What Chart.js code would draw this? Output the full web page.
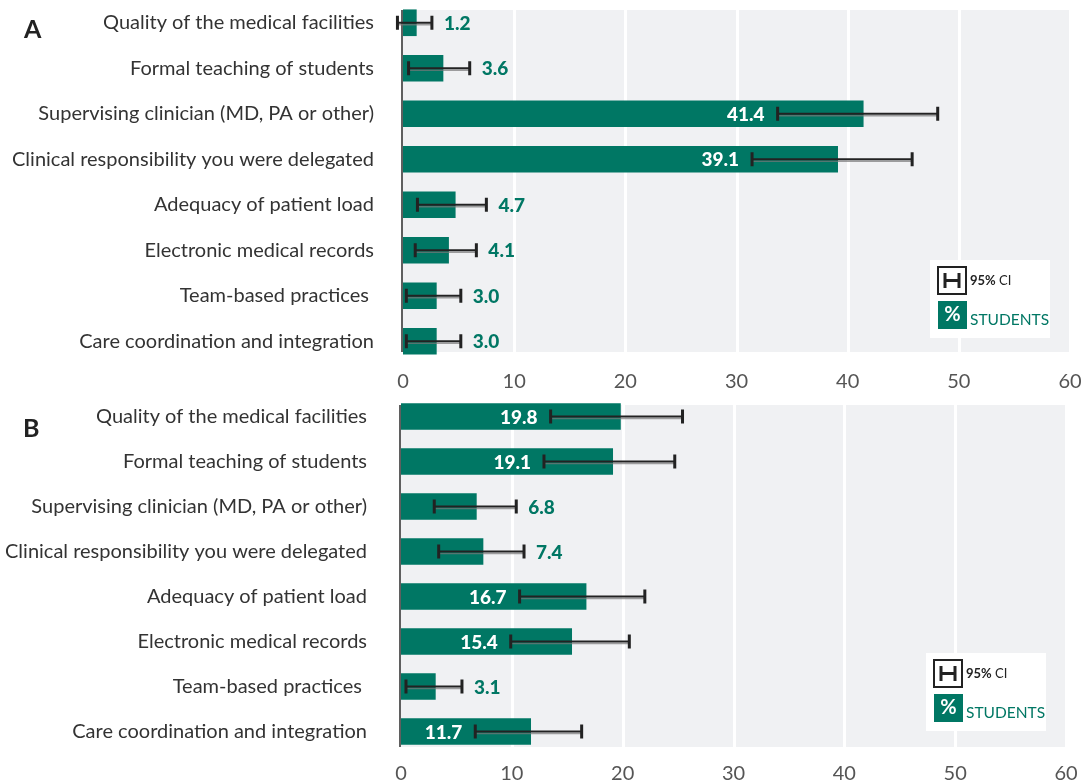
<!DOCTYPE html>
<html><head><meta charset="utf-8">
<script src="https://cdn.jsdelivr.net/npm/chart.js@4.4.1/dist/chart.umd.min.js"></script>
<style>
html,body{margin:0;padding:0;background:#fff}
body{width:1083px;height:781px;overflow:hidden;position:relative}
.wrap{position:absolute;left:0;width:1083px}
</style></head><body>
<div class="wrap" style="top:0;height:395px"><canvas id="cA"></canvas></div>
<div class="wrap" style="top:394px;height:387px"><canvas id="cB"></canvas></div>
<script>
const categories = [
  "Quality of the medical facilities",
  "Formal teaching of students",
  "Supervising clinician (MD, PA or other)",
  "Clinical responsibility you were delegated",
  "Adequacy of patient load",
  "Electronic medical records",
  "Team-based practices ",
  "Care coordination and integration"
];
const valuesA = [1.2, 3.6, 41.4, 39.1, 4.7, 4.1, 3.0, 3.0];
const ciLowA  = [-0.5, 0.5, 33.7, 31.4, 1.3, 1.1, 0.3, 0.3];
const ciHighA = [2.6, 6.0, 48.1, 45.8, 7.5, 6.6, 5.2, 5.2];
const valuesB = [19.8, 19.1, 6.8, 7.4, 16.7, 15.4, 3.1, 11.7];
const ciLowB  = [13.5, 12.9, 3.0, 3.4, 10.7, 9.9, 0.45, 6.7];
const ciHighB = [25.4, 24.7, 10.4, 11.1, 22.0, 20.6, 5.5, 16.3];
const xTicks = [0, 10, 20, 30, 40, 50, 60];
const panelLetters = ["A", "B"];
const legendTexts = ["95% CI", "STUDENTS"];

const GREEN = '#007764';
const FONT = 'Lato';

const overlay = {
  id: 'overlay',
  beforeDatasetsDraw(chart, args, o) {
    const ctx = chart.ctx, ca = chart.chartArea, xs = chart.scales.x;
    ctx.save();
    ctx.fillStyle = '#f0f1f3';
    ctx.fillRect(ca.left, o.bgTop, ca.right - ca.left, o.bgBottom - o.bgTop);
    ctx.strokeStyle = '#ffffff';
    ctx.lineWidth = 3;
    xTicks.forEach(v => {
      if (v === 0) return;
      const x = Math.round(xs.getPixelForValue(v)) + 0.5;
      ctx.beginPath(); ctx.moveTo(x, o.bgTop); ctx.lineTo(x, o.bgBottom); ctx.stroke();
    });
    ctx.restore();
  },
  afterDatasetsDraw(chart, args, o) {
    const ctx = chart.ctx, ca = chart.chartArea, xs = chart.scales.x;
    const meta = chart.getDatasetMeta(0);
    ctx.save();
    ctx.strokeStyle = '#5f5f5f'; ctx.lineWidth = 2;
    ctx.beginPath(); ctx.moveTo(ca.left - 1, o.bgTop); ctx.lineTo(ca.left - 1, o.bgBottom); ctx.stroke();
    const vals = chart.data.datasets[0].data;
    meta.data.forEach((bar, i) => {
      const y = bar.y;
      const xl = xs.getPixelForValue(o.lo[i]);
      const xh = xs.getPixelForValue(o.hi[i]);
      ctx.strokeStyle = 'rgba(120,120,120,0.7)'; ctx.lineWidth = 1.5;
      ctx.beginPath(); ctx.moveTo(xl, y + 2); ctx.lineTo(xh, y + 2); ctx.stroke();
      ctx.strokeStyle = '#222'; ctx.lineWidth = 2.2;
      ctx.beginPath(); ctx.moveTo(xl, y); ctx.lineTo(xh, y); ctx.stroke();
      ctx.lineWidth = 3;
      ctx.beginPath(); ctx.moveTo(xl, y - 7); ctx.lineTo(xl, y + 7);
      ctx.moveTo(xh, y - 7); ctx.lineTo(xh, y + 7); ctx.stroke();
      const txt = vals[i].toFixed(1);
      ctx.font = '900 19px ' + FONT;
      ctx.textBaseline = 'middle';
      if (vals[i] >= 10) {
        ctx.fillStyle = '#ffffff'; ctx.textAlign = 'right';
        ctx.fillText(txt, xl - 13, y + 1);
      } else {
        ctx.fillStyle = GREEN; ctx.textAlign = 'left';
        ctx.fillText(txt, xh + 12, y + 1);
      }
    });
    ctx.fillStyle = '#222'; ctx.font = 'bold 25px ' + FONT;
    ctx.textAlign = 'left'; ctx.textBaseline = 'alphabetic';
    ctx.fillText(o.letter, o.letterX, o.letterY);
    const lx = ca.right - 140, ly = o.legTop;
    ctx.fillStyle = '#ffffff';
    ctx.fillRect(lx, ly, 120, 78);
    ctx.strokeStyle = '#222'; ctx.lineWidth = 2;
    ctx.strokeRect(lx + 8, ly + 7, 28, 27);
    ctx.lineWidth = 3;
    ctx.beginPath();
    ctx.moveTo(lx + 15, ly + 13); ctx.lineTo(lx + 15, ly + 28);
    ctx.moveTo(lx + 29, ly + 13); ctx.lineTo(lx + 29, ly + 28);
    ctx.moveTo(lx + 15, ly + 20.5); ctx.lineTo(lx + 29, ly + 20.5);
    ctx.stroke();
    ctx.fillStyle = '#222'; ctx.textBaseline = 'middle';
    ctx.font = 'bold 13px ' + FONT;
    const w95 = ctx.measureText('95%').width;
    ctx.fillText('95%', lx + 40, ly + 21);
    ctx.font = '13px ' + FONT;
    ctx.fillText(' CI', lx + 40 + w95, ly + 21);
    ctx.fillStyle = GREEN;
    ctx.fillRect(lx + 8, ly + 41, 29, 28);
    ctx.fillStyle = '#fff'; ctx.font = 'bold 20px ' + FONT; ctx.textAlign = 'center';
    ctx.fillText('%', lx + 22.5, ly + 55);
    ctx.fillStyle = GREEN; ctx.font = '15.5px ' + FONT; ctx.textAlign = 'left';
    ctx.fillText(legendTexts[1], lx + 40, ly + 60);
    ctx.restore();
  }
};

function makeChart(id, values, lo, hi, p) {
  return new Chart(document.getElementById(id), {
    type: 'bar',
    data: { labels: categories, datasets: [{ data: values, backgroundColor: GREEN, barThickness: 26, borderWidth: 0 }] },
    options: {
      indexAxis: 'y', responsive: true, maintainAspectRatio: false, animation: false,
      layout: { padding: { top: 0, right: p.right, bottom: 0, left: 0 } },
      plugins: {
        legend: { display: false }, tooltip: { enabled: false },
        overlay: { lo: lo, hi: hi, bgTop: p.bgTop, bgBottom: p.bgBottom, letter: p.letter,
                   letterX: p.letterX, letterY: p.letterY, legTop: p.legTop }
      },
      scales: {
        x: {
          min: 0, max: 60,
          afterBuildTicks: s => { s.ticks = xTicks.map(v => ({ value: v })); },
          grid: { display: false, drawTicks: false }, border: { display: false },
          ticks: { padding: p.xpad, color: '#555', font: { family: FONT, size: 20 } },
          afterFit: s => { s.height = p.xh; s.paddingLeft = 0; s.paddingRight = 0; }
        },
        y: {
          grid: { display: false, drawTicks: false }, border: { display: false },
          ticks: { padding: p.ypad, color: '#333', font: { family: FONT, size: 20 } },
          afterFit: s => { s.width = p.left; s.paddingTop = 0; s.paddingBottom = 0; }
        }
      }
    },
    plugins: [overlay]
  });
}

makeChart('cA', valuesA, ciLowA, ciHighA,
  { right: 13, left: 403, ypad: 29, xpad: 6, xh: 31, bgTop: 10, bgBottom: 352,
    letter: panelLetters[0], letterX: 24, letterY: 38, legTop: 260 });
makeChart('cB', valuesB, ciLowB, ciHighB,
  { right: 17, left: 401, ypad: 34, xpad: 8, xh: 27, bgTop: 11, bgBottom: 353,
    letter: panelLetters[1], letterX: 23, letterY: 43, legTop: 259 });
</script>
</body></html>
